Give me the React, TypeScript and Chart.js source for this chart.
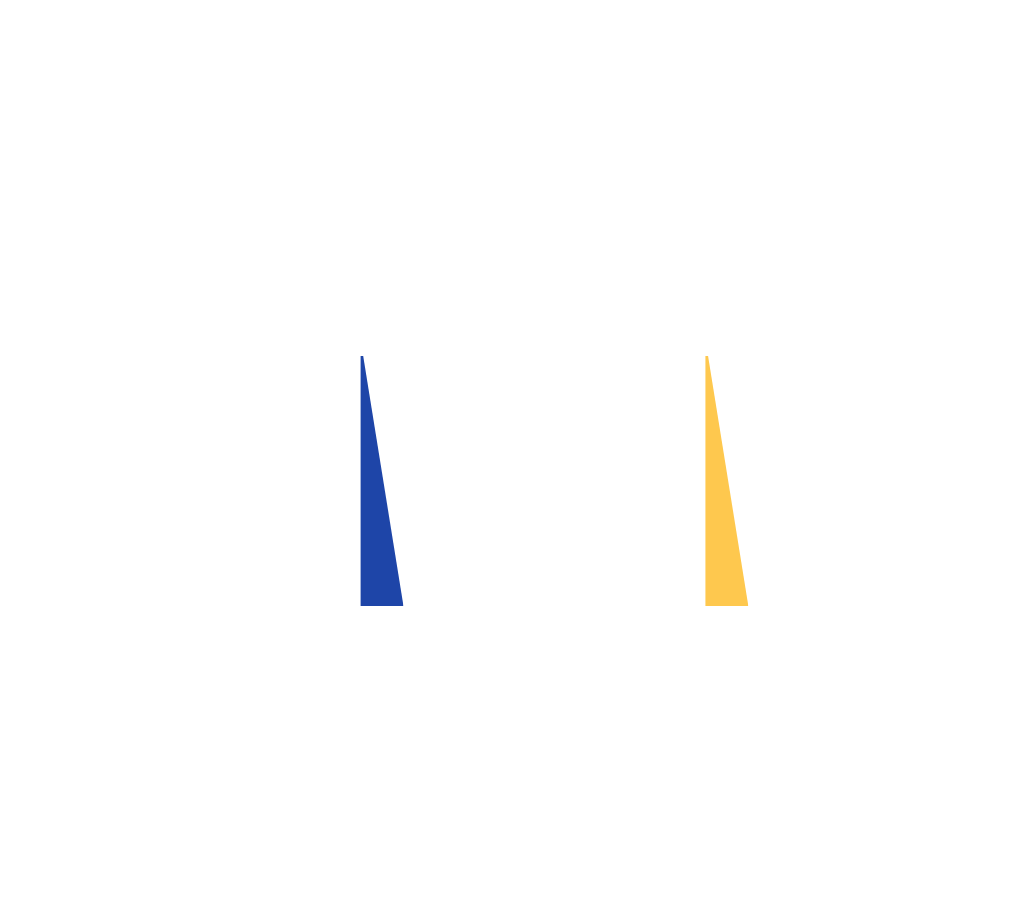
import { useEffect, useRef } from 'react';
import Chart from 'chart.js/auto';

// hours of the day on the x axis
const hours = Array.from({ length: 24 }, (_, i) => String(i));

// peaks run slightly past the top of the plot and get clipped flat
const morningPeak = [
  null, null, null, null, null, null, null, null,
  107, 0,
  null, null, null, null, null, null, null, null, null, null, null, null, null, null,
];

const eveningPeak = [
  null, null, null, null, null, null, null, null, null, null, null, null, null, null, null, null,
  107, 0,
  null, null, null, null, null, null,
];

const App = () => {
  const chartRef = useRef<HTMLCanvasElement>(null);
  const chartInstance = useRef<Chart | null>(null);

  useEffect(() => {
    if (!chartRef.current) return;
    if (chartInstance.current) {
      chartInstance.current.destroy();
    }

    chartInstance.current = new Chart(chartRef.current, {
      type: 'line',
      data: {
        labels: hours,
        datasets: [
          {
            label: 'Morning',
            data: morningPeak,
            backgroundColor: '#1E45A8',
            borderWidth: 0,
            pointRadius: 0,
            tension: 0,
            fill: 'origin',
          },
          {
            label: 'Evening',
            data: eveningPeak,
            backgroundColor: '#FEC84E',
            borderWidth: 0,
            pointRadius: 0,
            tension: 0,
            fill: 'origin',
          },
        ],
      },
      options: {
        animation: false,
        responsive: true,
        maintainAspectRatio: false,
        layout: {
          padding: { top: 348, bottom: 308, left: 7.5, right: 9 },
        },
        plugins: {
          legend: { display: false },
          tooltip: { enabled: false },
        },
        scales: {
          x: { display: false },
          y: { display: false, min: 0, max: 100 },
        },
      },
    });

    return () => {
      if (chartInstance.current) {
        chartInstance.current.destroy();
        chartInstance.current = null;
      }
    };
  }, []);

  return (
    <div style={{ position: 'relative', width: '100%', height: 906 }}>
      <canvas ref={chartRef} />
    </div>
  );
};

export default App;
